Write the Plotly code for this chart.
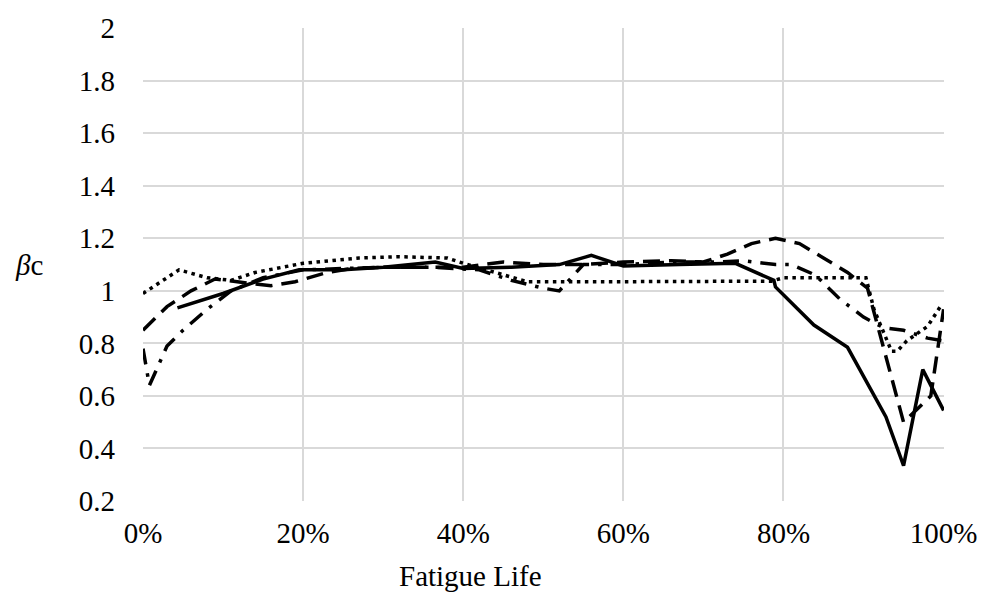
import plotly.graph_objects as go

# ---- data ----
solid_x = [4.3, 10, 15, 19.5, 25, 30, 36.5, 40, 46, 52, 56, 60, 67, 74, 78.8, 79, 83.8, 88, 92.8, 95, 97.4, 100]
solid_y = [0.935, 0.99, 1.045, 1.08, 1.08, 1.09, 1.11, 1.085, 1.09, 1.10, 1.135, 1.095, 1.10, 1.105, 1.04, 1.015, 0.87, 0.785, 0.52, 0.335, 0.70, 0.545]

dash_x = [0, 3, 6, 9, 13, 16, 19, 23, 26, 30, 35, 40, 45, 50, 55, 60, 66, 70, 73, 76, 79, 82, 85, 88, 90.5, 95, 98.4, 100]
dash_y = [0.85, 0.94, 1.00, 1.045, 1.03, 1.02, 1.035, 1.07, 1.085, 1.09, 1.09, 1.09, 1.11, 1.10, 1.10, 1.11, 1.115, 1.11, 1.14, 1.18, 1.20, 1.18, 1.125, 1.07, 1.01, 0.50, 0.60, 0.93]

dashdot_x = [0, 0.8, 3, 5, 8, 11, 15, 20, 25, 30, 36, 40, 42, 46, 50, 52, 55, 60, 66, 72, 75, 79, 81, 84, 87, 90, 92.5, 95, 98, 100]
dashdot_y = [0.78, 0.64, 0.79, 0.85, 0.93, 1.0, 1.05, 1.08, 1.085, 1.09, 1.09, 1.085, 1.08, 1.04, 1.01, 1.00, 1.10, 1.10, 1.11, 1.11, 1.115, 1.10, 1.10, 1.06, 0.97, 0.90, 0.86, 0.85, 0.82, 0.81]

dot_x = [0, 4.5, 8, 11, 14, 20, 27, 32, 38, 40, 44, 48, 60, 70, 78.5, 80, 86, 90.3, 91.3, 93.5, 94.2, 95.4, 98, 99.8]
dot_y = [0.99, 1.08, 1.05, 1.04, 1.07, 1.105, 1.125, 1.13, 1.125, 1.105, 1.07, 1.035, 1.035, 1.035, 1.037, 1.05, 1.05, 1.05, 0.93, 0.77, 0.77, 0.81, 0.865, 0.95]

y_ticks = [0.2, 0.4, 0.6, 0.8, 1.0, 1.2, 1.4, 1.6, 1.8, 2.0]
y_tick_text = ["0.2", "0.4", "0.6", "0.8", "1", "1.2", "1.4", "1.6", "1.8", "2"]
x_ticks = [0, 20, 40, 60, 80, 100]
x_tick_text = ["0%", "20%", "40%", "60%", "80%", "100%"]

FONT = "Liberation Serif, Times New Roman, serif"
FS = 29

fig = go.Figure()
series = [
    (dot_x, dot_y, "3.5px,4.5px"),
    (dashdot_x, dashdot_y, "16px,9px,3.5px,9px"),
    (dash_x, dash_y, "17px,9px"),
    (solid_x, solid_y, "solid"),
]
for xs, ys, dash in series:
    fig.add_trace(go.Scatter(x=xs, y=ys, mode="lines",
                             line=dict(color="black", width=3.5, dash=dash),
                             hoverinfo="skip", showlegend=False))

fig.update_layout(
    width=989, height=600,
    margin=dict(l=143, r=39, t=15, b=99),
    paper_bgcolor="white", plot_bgcolor="white",
    font=dict(family=FONT, size=FS, color="black"),
    showlegend=False,
)
fig.update_xaxes(
    range=[0, 100.05], tickvals=x_ticks, ticktext=x_tick_text,
    showgrid=True, gridcolor="#d9d9d9", gridwidth=1.5,
    zeroline=False, showline=False, ticks="", ticklabelstandoff=12,
    ticklabeloverflow="allow",
)
fig.update_yaxes(
    range=[0.2, 2.0008], tickvals=y_ticks, ticktext=y_tick_text,
    showgrid=True, gridcolor="#d9d9d9", gridwidth=1.5,
    zeroline=False, showline=False, ticks="", ticklabelstandoff=27,
    ticklabeloverflow="allow",
)
fig.add_annotation(text="Fatigue Life", xref="paper", yref="paper",
                   x=0.409, y=-0.158, showarrow=False, xanchor="center", yanchor="middle",
                   font=dict(family=FONT, size=FS, color="black"))
fig.add_annotation(text="<i>β</i>c", xref="paper", yref="paper",
                   x=-0.142, y=0.5, showarrow=False, xanchor="center", yanchor="middle",
                   font=dict(family=FONT, size=FS, color="black"))

fig.write_html("out.html")
